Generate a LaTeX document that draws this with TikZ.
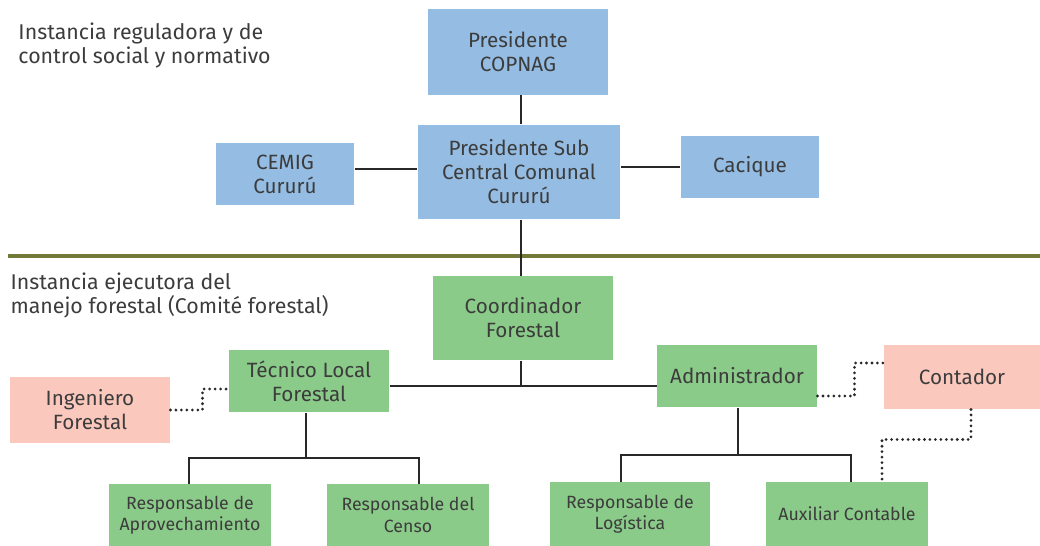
\documentclass[tikz,border=0pt]{standalone}
\usepackage{fontspec}
\setmainfont{Fira Sans}
\usetikzlibrary{calc}

\definecolor{boxblue}{RGB}{149,189,227}
\definecolor{boxgreen}{RGB}{139,203,137}
\definecolor{boxpink}{RGB}{250,200,188}
\definecolor{sepolive}{RGB}{114,121,54}
\definecolor{txtgray}{RGB}{60,60,60}
\definecolor{linegray}{RGB}{40,40,40}

\tikzset{every picture/.style={line width=0.75pt}}
\tikzset{
  box/.style={inner sep=0pt, align=center, text=txtgray, font=\fontsize{15.5}{18}\selectfont},
  bluebox/.style={box, fill=boxblue},
  greenbox/.style={box, fill=boxgreen},
  pinkbox/.style={box, fill=boxpink},
  smallbox/.style={greenbox, font=\fontsize{13.3}{16}\selectfont},
  link/.style={draw=linegray, line width=1.1pt},
  dotlink/.style={draw=linegray, line width=2.3pt, line cap=round, dash pattern=on 0pt off 4.1pt},
  heading/.style={anchor=north west, align=left, inner sep=0pt, text=txtgray, font=\fontsize{16}{18}\selectfont}
}

\begin{document}
\begin{tikzpicture}[x=0.75pt,y=0.75pt,yscale=-1,xscale=1]
	\useasboundingbox (0,0) rectangle (1040,546);

	% Upper level
	\node [bluebox, minimum width=135, minimum height=64] (copnag) at (518,52) {Presidente\\COPNAG};
	\node [bluebox, minimum width=152, minimum height=71] (subcentral) at (519,172) {Presidente Sub\\Central Comunal\\Cururú};
	\node [bluebox, minimum width=104, minimum height=47] (cemig) at (285,174) {CEMIG\\Cururú};
	\node [bluebox, minimum width=104, minimum height=46] (cacique) at (750,167) {Cacique};

	% Separator
	\draw [draw=sepolive, line width=3pt] (8,256) -- (1040,256);

	% Headings
	\node [heading] (hreg) at (18,22) {Instancia reguladora y de\\control social y normativo};
	\node [heading] (hejec) at (10,272) {Instancia ejecutora del\\manejo forestal (Comité forestal)};

	% Lower level
	\node [greenbox, minimum width=135, minimum height=63] (coord) at (523,318) {Coordinador\\Forestal};
	\node [greenbox, minimum width=120, minimum height=47] (tecnico) at (309,381) {Técnico Local\\Forestal};
	\node [pinkbox, minimum width=120, minimum height=49] (ingeniero) at (90,410) {Ingeniero\\Forestal};
	\node [greenbox, minimum width=120, minimum height=47] (admin) at (737,376) {Administrador};
	\node [pinkbox, minimum width=117, minimum height=48] (contador) at (962,377) {Contador};

	\node [smallbox, minimum width=121, minimum height=46] (aprov) at (190,515) {Responsable de\\Aprovechamiento};
	\node [smallbox, minimum width=121, minimum height=46] (censo) at (408,515) {Responsable del\\Censo};
	\node [smallbox, minimum width=120, minimum height=48] (logist) at (630,514) {Responsable de\\Logística};
	\node [smallbox, minimum width=121, minimum height=48] (auxiliar) at (847,514) {Auxiliar Contable};

	% Solid connectors
	\coordinate (hub) at (521,386);
	\coordinate (tjoin) at (306,458);
	\coordinate (ajoin) at (738,455);
	\draw [link] (copnag.south -| hub) -- (subcentral.north -| hub);
	\draw [link] ($(cemig.east)+(0,-5)$) -- ($(cemig.east -| subcentral.west)+(0,-5)$);
	\draw [link] (subcentral.east |- cacique.east) -- (cacique.east -| cacique.west);
	\draw [link] (subcentral.south -| hub) -- (coord.north -| hub);
	\draw [link] (coord.south -| hub) -- (hub);
	\draw [link] (tecnico.east |- hub) -- (admin.west |- hub);
	\draw [link] (tecnico.south -| tjoin) -- (tjoin);
	\draw [link] ($(aprov.north)+(-1,0)$) |- (tjoin) -| ($(censo.north)+(11,0)$);
	\draw [link] (admin.south -| ajoin) -- (ajoin);
	\draw [link] ($(logist.north)+(-9,0)$) |- (ajoin) -| ($(auxiliar.north)+(4,0)$);

	% Dotted connectors
	\draw [dotlink] (ingeniero.east) -- ++(32,0) |- ($(tecnico.west)+(0,8)$);
	\draw [dotlink] ($(admin.east)+(0,20)$) -- ++(37,0) |- ($(contador.west)+(0,-14)$);
	\draw [dotlink] ($(contador.south)+(9,0)$) -- ++(0,30) -| ($(auxiliar.north)+(35,0)$);

\end{tikzpicture}
\end{document}
